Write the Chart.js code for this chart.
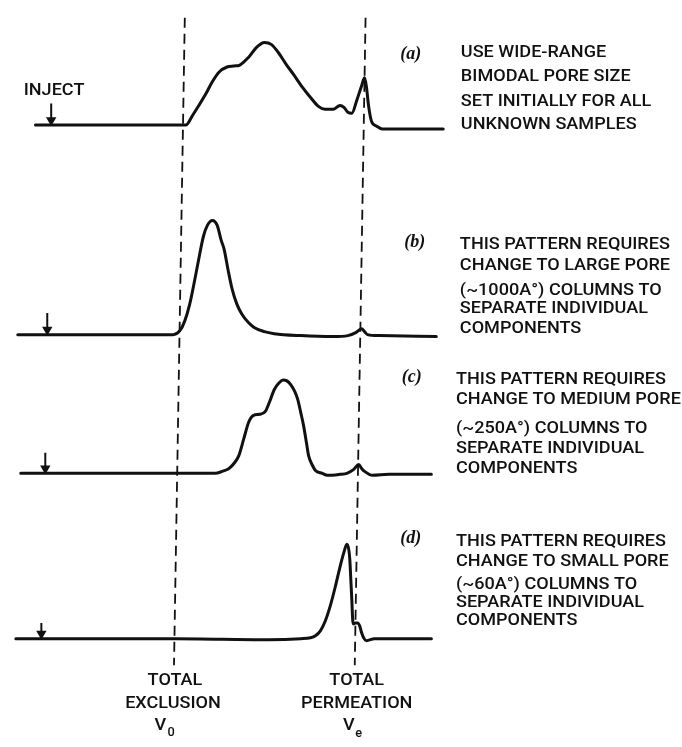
<!DOCTYPE html>
<html>
<head>
<meta charset="utf-8">
<script src="https://cdn.jsdelivr.net/npm/chart.js@4/dist/chart.umd.min.js"></script>
<style>
  html, body { margin: 0; padding: 0; background: #fff; }
  #wrap { position: relative; width: 682px; height: 747px; }
</style>
</head>
<body>
<div id="wrap"><canvas id="gpc"></canvas></div>
<script>
// Four GPC elution traces: [elution, detector response above baseline]
const traceA = [[30,0],[100,0],[150,0],[183,0],[190,10],[203,31],[210,44],[217,54],[225,59],[232,60],[238,61],[247,69],[255,79],[263,84],[270,82],[277,74],[285,62],[293,51],[302,38],[310,28],[318,19],[325,16],[333,16],[340,20],[344,18],[348,13],[352,12],[357,25],[362,40],[365,48],[367,38],[369,20],[372,4],[377,-1],[383,-4],[445,-4]];
const traceB = [[12,0],[100,0],[160,0],[170,0],[177,4],[182,14],[187,31],[192,55],[197,81],[201,100],[205,111],[210,116],[215,111],[219,96],[222,87],[226,66],[230,47],[235,31],[240,21],[247,12],[253,7],[263,3],[273,1],[300,-1],[333,-2],[348,-1],[356,2],[362,6],[365,3],[368,0],[380,-1],[438,-2]];
const traceC = [[15,0],[100,0],[173,0],[213,0],[220,2],[227,5],[232,10],[237,18],[242,35],[247,52],[252,59],[258,60],[264,63],[268,72],[273,85],[278,92],[282,95],[286,94],[290,90],[294,83],[297,75],[300,62],[303,48],[306,30],[308,18],[312,8],[315,3],[322,0],[327,-2],[340,-1],[347,0],[354,4],[359,9],[362,5],[365,2],[373,-2],[390,-1],[433,-1]];
const traceD = [[10,0],[100,0],[172,0],[267,-1],[300,0],[310,1],[315,3],[320,8],[325,18],[330,33],[335,52],[340,73],[344,88],[347,96],[349,90],[350,80],[351,60],[352,40],[353,18],[354,15],[356,16],[358,16],[360,13],[362,6],[364,1],[367,-2],[375,0],[433,0]];
const injectAt = [46, 42, 40, 36];          // injection point on each trace
const v0Line = [182, 171];                   // total exclusion V0 (top, bottom of sheet)
const veLine = [366, 355];                   // total permeation Ve (top, bottom of sheet)

const traceTags = ['(a)', '(b)', '(c)', '(d)'];
const noteA = ['USE WIDE-RANGE', 'BIMODAL PORE SIZE', 'SET INITIALLY FOR ALL', 'UNKNOWN SAMPLES'];
const noteB = ['THIS PATTERN REQUIRES', 'CHANGE TO LARGE PORE', '(~1000A°) COLUMNS TO', 'SEPARATE INDIVIDUAL', 'COMPONENTS'];
const noteC = ['THIS PATTERN REQUIRES', 'CHANGE TO MEDIUM PORE', '(~250A°) COLUMNS TO', 'SEPARATE INDIVIDUAL', 'COMPONENTS'];
const noteD = ['THIS PATTERN REQUIRES', 'CHANGE TO SMALL PORE', '(~60A°) COLUMNS TO', 'SEPARATE INDIVIDUAL', 'COMPONENTS'];
const v0Label = ['TOTAL', 'EXCLUSION'];
const veLabel = ['TOTAL', 'PERMEATION'];

// layout (page units, y measured downward)
const baselines = [121, 334, 475, 643];
const arrowLen = [22, 22, 21, 16];
const markerSpan = [12, 670];
const INK = '#111';
const SANS = '500 17px Roboto, "Liberation Sans", Arial, sans-serif';

const traces = [traceA, traceB, traceC, traceD];
const datasets = [];
traces.forEach((tr, i) => {
  datasets.push({
    data: tr.map(([x, s]) => ({ x, y: baselines[i] - s })),
    showLine: true, borderColor: INK, borderWidth: 3, pointRadius: 0,
    cubicInterpolationMode: 'monotone', borderCapStyle: 'round', borderJoinStyle: 'round',
  });
  // inject arrow
  datasets.push({
    data: [{ x: injectAt[i], y: baselines[i] - arrowLen[i] }, { x: injectAt[i], y: baselines[i] - 5 }],
    showLine: true, borderColor: INK, borderWidth: 2, pointRadius: [0, 4],
    pointStyle: 'triangle', rotation: 180, pointBackgroundColor: INK, pointBorderColor: INK,
  });
});
[v0Line, veLine].forEach((ln) => {
  datasets.push({
    data: [{ x: ln[0], y: markerSpan[0] }, { x: ln[1], y: markerSpan[1] }],
    showLine: true, borderColor: INK, borderWidth: 1.8, borderDash: [10, 6], pointRadius: 0,
  });
});

const textPlugin = {
  id: 'annotText',
  afterDraw(chart) {
    const { ctx, scales: { x, y } } = chart;
    const px = (v) => x.getPixelForValue(v);
    const py = (v) => y.getPixelForValue(v);
    ctx.save();
    ctx.fillStyle = INK;
    ctx.textBaseline = 'middle';
    ctx.font = SANS;
    const sx = 210 / ctx.measureText(noteB[0]).width; // squeeze to the lettering-guide width

    const put = (str, cx, cy, align) => {
      ctx.save();
      ctx.translate(px(cx), py(cy));
      ctx.scale(sx, 1);
      ctx.textAlign = align;
      ctx.fillText(str, 0, 0);
      ctx.restore();
    };

    const blocks = [
      { lines: noteA, x: 463, ys: [48, 72, 97, 121] },
      { lines: noteB, x: 462, ys: [243, 264, 289, 308, 328] },
      { lines: noteC, x: 458, ys: [380, 400, 430, 450, 470] },
      { lines: noteD, x: 458, ys: [545, 565, 588, 606, 625] },
    ];
    blocks.forEach((b) => b.lines.forEach((s, k) => put(s, b.x, b.ys[k], 'left')));

    put('INJECT', 18, 86, 'left');

    put(v0Label[0], 172, 686, 'center');
    put(v0Label[1], 170, 709, 'center');
    put(veLabel[0], 357, 686, 'center');
    put(veLabel[1], 357, 709, 'center');
    put('V', 157, 731, 'center');
    put('V', 349, 731, 'center');
    ctx.font = '500 12px Roboto, "Liberation Sans", Arial, sans-serif';
    put('0', 168, 739, 'center');
    put('e', 359, 740, 'center');

    ctx.font = 'bold italic 18px "Liberation Serif", "DejaVu Serif", serif';
    ctx.textAlign = 'center';
    const tagPos = [[412, 49], [416, 240], [413, 377], [412, 541]];
    traceTags.forEach((t, i) => ctx.fillText(t, px(tagPos[i][0]), py(tagPos[i][1])));
    ctx.restore();
  },
};

new Chart(document.getElementById('gpc'), {
  type: 'scatter',
  data: { datasets },
  options: {
    responsive: true, maintainAspectRatio: false, animation: false,
    layout: { padding: 0 },
    scales: {
      x: { type: 'linear', min: 0, max: 682, display: false },
      y: { type: 'linear', min: 0, max: 747, reverse: true, display: false },
    },
    plugins: { legend: { display: false }, tooltip: { enabled: false } },
  },
  plugins: [textPlugin],
});
</script>
</body>
</html>
